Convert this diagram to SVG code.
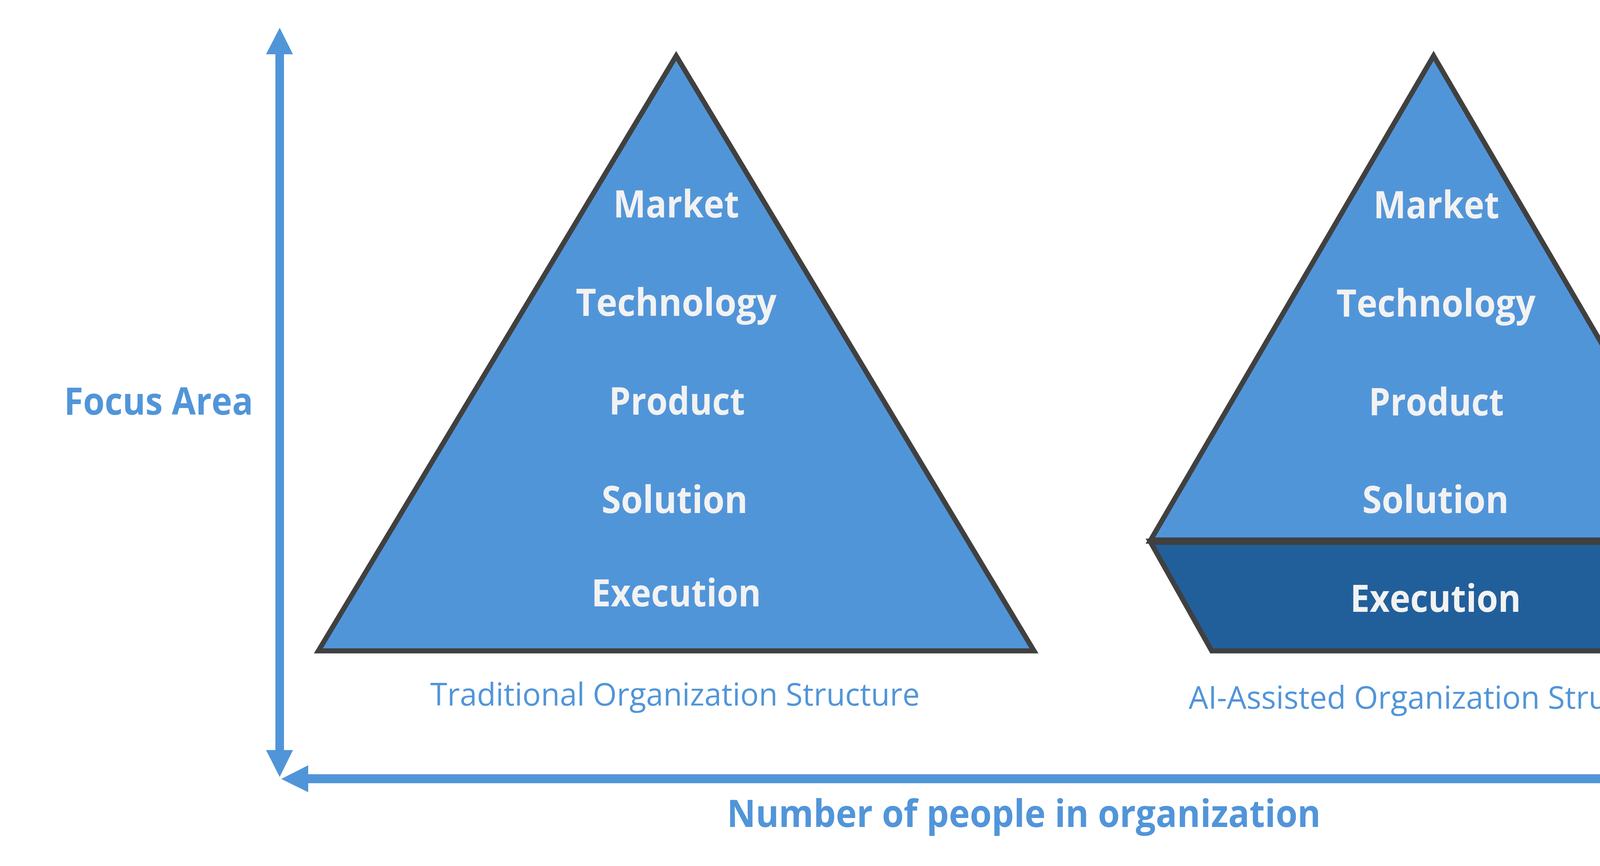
<svg xmlns="http://www.w3.org/2000/svg" width="4597" height="2218" viewBox="0 0 4597 2218">
<style>
.shape{stroke:#404040;stroke-width:13;stroke-linejoin:miter;stroke-miterlimit:10}
.light{fill:#5195D9}
.dark{fill:#215F9B}
.lbl{font-family:"Open Sans","Liberation Sans",sans-serif;font-weight:bold;font-size:96px;fill:#F2F2F2;text-anchor:middle}
.cap{font-family:"Open Sans","Liberation Sans",sans-serif;font-size:80px;fill:#5195D9;text-anchor:middle}
.axis{font-family:"Open Sans","Liberation Sans",sans-serif;font-weight:bold;font-size:96px;fill:#5195D9;text-anchor:middle}
.arrow{fill:#5195D9}
</style>
<rect width="4597" height="2218" fill="#FFFFFF"/>
<g id="connectors">
<g id="y-axis" class="arrow">
<rect x="705" y="135" width="22" height="1790"/>
<polygon points="716,71 750,139 681,139"/>
<polygon points="716,1990 750,1921 681,1921"/>
</g>
<g id="x-axis" class="arrow">
<rect x="785" y="1983" width="3541" height="23"/>
<polygon points="720,1995 789,1960 789,2029"/>
<polygon points="4391,1995 4322,1960 4322,2029"/>
</g>
</g>
<g id="focus-area-label">
<text class="axis" x="406" y="1062" textLength="484" lengthAdjust="spacingAndGlyphs">Focus Area</text>
</g>
<g id="x-axis-label">
<text class="axis" x="2621" y="2118" textLength="1520" lengthAdjust="spacingAndGlyphs">Number of people in organization</text>
</g>
<g id="traditional-pyramid">
<polygon class="shape light" points="1731,143 2647,1667 815,1667"/>
<text class="lbl" x="1731" y="557" textLength="322" lengthAdjust="spacingAndGlyphs">Market</text>
<text class="lbl" x="1731" y="809" textLength="514" lengthAdjust="spacingAndGlyphs">Technology</text>
<text class="lbl" x="1733" y="1062" textLength="348" lengthAdjust="spacingAndGlyphs">Product</text>
<text class="lbl" x="1727" y="1314" textLength="374" lengthAdjust="spacingAndGlyphs">Solution</text>
<text class="lbl" x="1731" y="1553" textLength="434" lengthAdjust="spacingAndGlyphs">Execution</text>
</g>
<g id="traditional-caption">
<text class="cap" x="1728" y="1807" textLength="1253" lengthAdjust="spacingAndGlyphs">Traditional Organization Structure</text>
</g>
<g id="ai-pyramid">
<polygon class="shape dark" points="2944,1386 4396,1386 4238,1667 3102,1667"/>
<polygon class="shape light" points="3670,143 4396,1386 2944,1386"/>
<line x1="2944" y1="1386" x2="4396" y2="1386" stroke="#404040" stroke-width="19"/>
<text class="lbl" x="3677" y="559" textLength="322" lengthAdjust="spacingAndGlyphs">Market</text>
<text class="lbl" x="3676" y="811" textLength="510" lengthAdjust="spacingAndGlyphs">Technology</text>
<text class="lbl" x="3677" y="1064" textLength="346" lengthAdjust="spacingAndGlyphs">Product</text>
<text class="lbl" x="3675" y="1314" textLength="375" lengthAdjust="spacingAndGlyphs">Solution</text>
<text class="lbl" x="3675" y="1567" textLength="437" lengthAdjust="spacingAndGlyphs">Execution</text>
</g>
<g id="ai-caption">
<text class="cap" x="3675" y="1815" textLength="1264" lengthAdjust="spacingAndGlyphs">AI-Assisted Organization Structure</text>
</g>
</svg>
